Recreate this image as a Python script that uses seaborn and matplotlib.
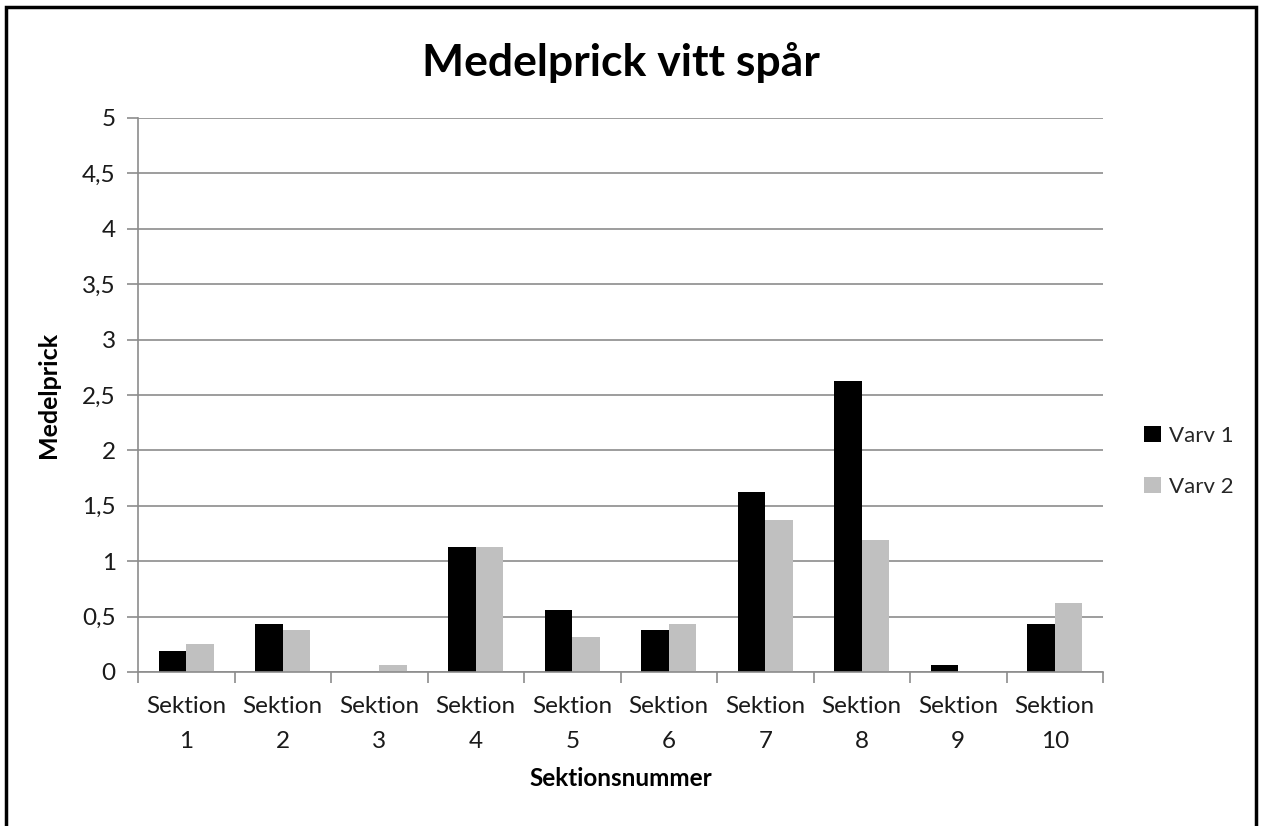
import pandas as pd
import seaborn as sns
import matplotlib.pyplot as plt
from matplotlib.patches import Rectangle
from matplotlib.ticker import FixedLocator

sektioner = ["Sektion\n%d" % i for i in range(1, 11)]
varv1 = [0.1875, 0.4375, 0.0, 1.125, 0.5625, 0.375, 1.625, 2.625, 0.0625, 0.4375]
varv2 = [0.25, 0.375, 0.0625, 1.125, 0.3125, 0.4375, 1.375, 1.1875, 0.0, 0.625]
yticks = [0, 0.5, 1, 1.5, 2, 2.5, 3, 3.5, 4, 4.5, 5]

df = pd.DataFrame({"Sektion": sektioner * 2,
                   "Medelprick": varv1 + varv2,
                   "Varv": ["Varv 1"] * 10 + ["Varv 2"] * 10})

sns.set_style("white")
plt.rcParams["font.family"] = ["Lato", "DejaVu Sans"]

fig = plt.figure(figsize=(12.63, 8.26), dpi=100)
ax = fig.add_axes([138 / 1263, 1 - 672 / 826, 965 / 1263, 554 / 826])

sns.barplot(data=df, x="Sektion", y="Medelprick", hue="Varv",
            palette=["#000000", "#c0c0c0"], width=0.57, gap=0,
            edgecolor="none", ax=ax)

grid = "#8c8c8c"
txt = "#1a1a1a"
ax.set_ylim(0, 5)
ax.set_xlim(-0.5, 9.5)
ax.set_yticks(yticks)
ax.set_yticklabels([("%g" % v).replace(".", ",") for v in yticks], fontsize=17.5, color=txt)
ax.set_xticks(range(len(sektioner)), labels=sektioner, linespacing=1.85)
ax.yaxis.grid(True, color=grid, linewidth=1.2)
ax.set_axisbelow(True)
ax.tick_params(axis="y", length=8, color=grid, width=1.2, pad=8, left=True)
ax.tick_params(axis="x", which="major", length=0, labelsize=17.5, labelcolor=txt, pad=17)
ax.xaxis.set_minor_locator(FixedLocator([i - 0.5 for i in range(11)]))
ax.tick_params(axis="x", which="minor", length=8, color=grid, width=1.2, bottom=True)
for s in ["top", "right"]:
    ax.spines[s].set_visible(False)
for s in ["left", "bottom"]:
    ax.spines[s].set_color(grid)
    ax.spines[s].set_linewidth(1.2)

ax.set_xlabel("Sektionsnummer", fontsize=17.5, fontweight="bold", labelpad=11, color="black")
ax.set_ylabel("Medelprick", fontsize=18, fontweight="bold", labelpad=16, color="black")
ax.set_title("Medelprick vitt spår", fontsize=32, fontweight="bold", pad=30, color="black")

leg = ax.legend(loc="center left", bbox_to_anchor=(1.022, 0.38), frameon=False,
                fontsize=16, handlelength=0.75, handleheight=0.75, handletextpad=0.35,
                labelspacing=1.4)

fig.patches.append(Rectangle((6 / 1263, -0.05), 1250 / 1263, 1.05 - 7 / 826,
                             transform=fig.transFigure, fill=False,
                             edgecolor="black", linewidth=2.5, figure=fig))

fig.savefig("out.png", dpi=100)
